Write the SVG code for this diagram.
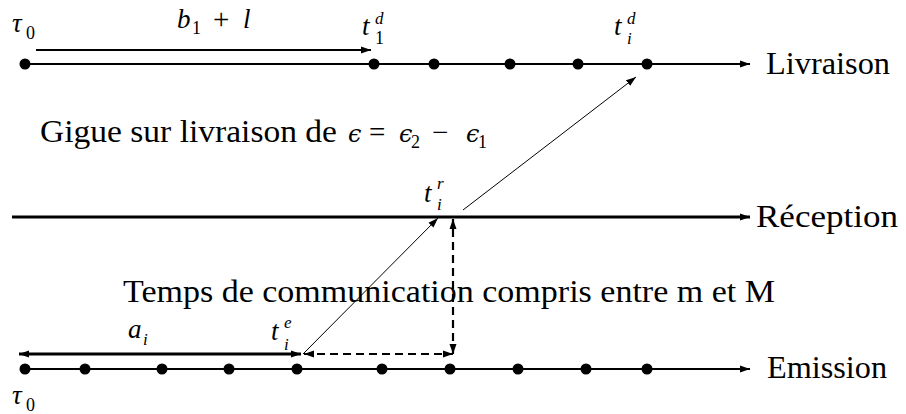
<svg xmlns="http://www.w3.org/2000/svg" width="906" height="414" viewBox="0 0 906 414">
<style>
.ln{stroke:#000;stroke-width:2;fill:none}
.thick{stroke:#000;stroke-width:3;fill:none}
.thin{stroke:#000;stroke-width:1;fill:none}
.dash{stroke:#000;stroke-width:2.2;fill:none;stroke-dasharray:8 5}
.dot{fill:#000}
.t{font-family:"Liberation Serif","Times New Roman",serif;font-size:31px;fill:#000}
.m{font-family:"Liberation Serif","Times New Roman",serif;font-style:italic;font-size:27px;fill:#000}
.s{font-family:"Liberation Serif","Times New Roman",serif;font-style:italic;font-size:17px;fill:#000}
.sr{font-family:"Liberation Serif","Times New Roman",serif;font-size:18px;fill:#000}
.op{font-family:"Liberation Serif","Times New Roman",serif;font-size:29px;fill:#000}
.eps{font-family:"DejaVu Serif","Liberation Serif",serif;font-style:italic;font-size:24px;fill:#000}
</style>
<defs>
<marker id="ah" markerUnits="userSpaceOnUse" markerWidth="12" markerHeight="10" refX="10" refY="4" orient="auto-start-reverse">
<path d="M0,0.5 L10,4 L0,7.5 Z" fill="#000"/>
</marker>
</defs>

<g id="connectors">
<line class="ln" x1="25" y1="64" x2="750" y2="64" marker-end="url(#ah)"/>
<line class="thick" x1="12" y1="217" x2="750" y2="217" marker-end="url(#ah)"/>
<line class="ln" x1="25" y1="369" x2="750" y2="369" marker-end="url(#ah)"/>
<line class="ln" x1="36" y1="50" x2="371" y2="50" marker-end="url(#ah)"/>
<line class="thick" x1="19" y1="354" x2="301" y2="354" marker-start="url(#ah)" marker-end="url(#ah)"/>
<line class="dash" x1="304" y1="354" x2="453" y2="354" marker-start="url(#ah)" marker-end="url(#ah)"/>
<line class="dash" x1="453" y1="354" x2="453" y2="219" marker-start="url(#ah)" marker-end="url(#ah)"/>
<line class="thin" x1="303" y1="354" x2="438" y2="218" marker-end="url(#ah)"/>
<line class="thin" x1="463" y1="210" x2="636" y2="77" marker-end="url(#ah)"/>
</g>

<g id="livraison">
<circle class="dot" cx="25" cy="64" r="5.5"/>
<circle class="dot" cx="374" cy="64" r="5.5"/>
<circle class="dot" cx="434" cy="64" r="5.5"/>
<circle class="dot" cx="510" cy="64" r="5.5"/>
<circle class="dot" cx="578" cy="64" r="5.5"/>
<circle class="dot" cx="647" cy="64" r="5.5"/>
<text class="t" x="766" y="74" textLength="124" lengthAdjust="spacingAndGlyphs">Livraison</text>
</g>

<g id="reception">
<text class="t" x="756" y="227" textLength="142" lengthAdjust="spacingAndGlyphs">Réception</text>
</g>

<g id="emission">
<circle class="dot" cx="25" cy="369" r="5.5"/>
<circle class="dot" cx="85" cy="369" r="5.5"/>
<circle class="dot" cx="162" cy="369" r="5.5"/>
<circle class="dot" cx="229" cy="369" r="5.5"/>
<circle class="dot" cx="297" cy="369" r="5.5"/>
<circle class="dot" cx="382" cy="369" r="5.5"/>
<circle class="dot" cx="450" cy="369" r="5.5"/>
<circle class="dot" cx="518" cy="369" r="5.5"/>
<circle class="dot" cx="586" cy="369" r="5.5"/>
<circle class="dot" cx="647" cy="369" r="5.5"/>
<text class="t" x="767" y="378" textLength="120" lengthAdjust="spacingAndGlyphs">Emission</text>
</g>

<g id="labels">
<text class="m" x="12" y="32">τ</text><text class="sr" x="26" y="39">0</text>
<text class="m" x="177" y="28">b</text><text class="sr" x="192" y="34">1</text>
<text class="op" x="213" y="29">+</text>
<text class="m" x="243" y="28">l</text>
<text class="m" x="362" y="35">t</text><text class="s" x="375" y="24">d</text><text class="sr" x="375" y="44">1</text>
<text class="m" x="614" y="35">t</text><text class="s" x="627" y="24">d</text><text class="s" x="627" y="44">i</text>
<text class="m" x="424" y="202">t</text><text class="s" x="437" y="189">r</text><text class="s" x="437" y="210">i</text>
<text class="m" x="271" y="340">t</text><text class="s" x="284" y="328">e</text><text class="s" x="284" y="350">i</text>
<text class="m" x="128" y="338">a</text><text class="s" x="143" y="345">i</text>
<text class="m" x="12" y="404">τ</text><text class="sr" x="26" y="411">0</text>
</g>

<g id="gigue">
<text class="t" x="40" y="142" textLength="297" lengthAdjust="spacingAndGlyphs">Gigue sur livraison de</text>
<text class="eps" x="348" y="142">ϵ</text>
<text class="op" x="369" y="142">=</text>
<text class="eps" x="399" y="142">ϵ</text><text class="sr" x="411" y="148">2</text>
<text class="op" x="432" y="142">−</text>
<text class="eps" x="466" y="142">ϵ</text><text class="sr" x="478" y="148">1</text>
</g>

<g id="temps">
<text class="t" x="123" y="302" textLength="652" lengthAdjust="spacingAndGlyphs">Temps de communication compris entre m et M</text>
</g>
</svg>
